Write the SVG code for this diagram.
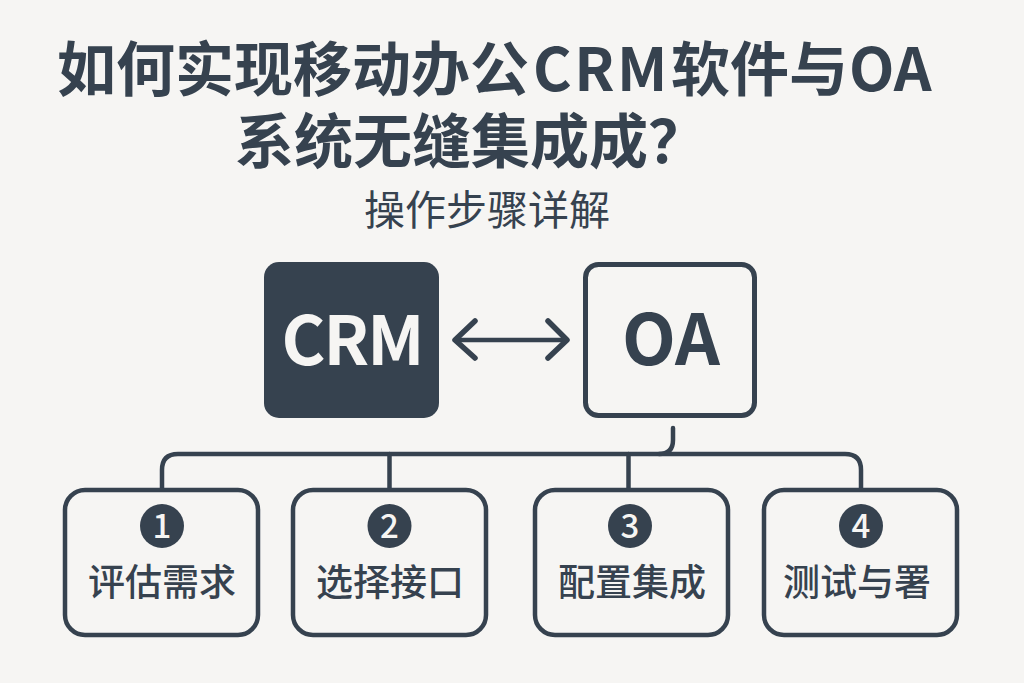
<svg xmlns="http://www.w3.org/2000/svg" width="1024" height="683" viewBox="0 0 1024 683">
<style>
text{font-family:"Noto Sans CJK SC","Noto Sans",sans-serif;fill:#36424f}
.title{font-size:59px;font-weight:700}
.sub{font-size:41px;font-weight:400}
.big{font-size:70px;font-weight:700;text-anchor:middle}
.label{font-size:37px;font-weight:500;text-anchor:middle}
.num{font-size:33px;font-weight:500;text-anchor:middle;fill:#f6f5f3}
.box{fill:none;stroke:#36424f;stroke-width:4.5}
.dot{fill:#36424f}
.line{fill:none;stroke:#36424f;stroke-width:4.5;stroke-linecap:round;stroke-linejoin:round}
</style>
<rect width="1024" height="683" fill="#f6f5f3"/>
<g id="title">
<text class="title" x="57" y="91">如何实现移动办公<tspan x="533" style="letter-spacing:2.500px">CRM</tspan><tspan x="671">软件与</tspan><tspan x="849">OA</tspan></text>
<text class="title" x="235" y="163">系统无缝集成成？</text>
<text class="sub" x="364" y="225">操作步骤详解</text>
</g>
<g id="connectors">
<path class="line" d="M456 340H566"/>
<path class="line" style="stroke-width:5.500" d="M475 321L455 340L475 358M548 321L567 340L548 358"/>
<path class="line" d="M673 428V440Q673 454 659 454H178Q162 454 162 470V489"/>
<path class="line" d="M659 454H845Q861 454 861 470V489"/>
<path class="line" d="M389.500 454V489M628.500 454V489"/>
</g>
<g id="crm"><rect x="264" y="262" width="175" height="156" rx="15" class="dot"/><text class="big" x="352" y="365" style="fill:#f6f5f3;font-size:67px;letter-spacing:-2px">CRM</text></g>
<g id="oa"><rect x="585.500" y="264.500" width="169" height="151" rx="13" class="box" style="stroke-width:5"/><text class="big" x="671" y="365">OA</text></g>
<g id="step1"><rect x="65" y="490" width="193" height="145" rx="20" class="box"/><circle class="dot" cx="162" cy="526" r="22"/><text class="num" x="162" y="538">1</text><text class="label" x="162" y="596">评估需求</text></g>
<g id="step2"><rect x="293" y="490" width="193" height="145" rx="20" class="box"/><circle class="dot" cx="389.500" cy="526" r="22"/><text class="num" x="389.500" y="538">2</text><text class="label" x="390" y="596">选择接口</text></g>
<g id="step3"><rect x="535" y="490" width="193" height="145" rx="20" class="box"/><circle class="dot" cx="630" cy="526" r="22"/><text class="num" x="630" y="538">3</text><text class="label" x="632" y="596">配置集成</text></g>
<g id="step4"><rect x="764" y="490" width="193" height="145" rx="20" class="box"/><circle class="dot" cx="861" cy="526" r="22"/><text class="num" x="861" y="538">4</text><text class="label" x="857" y="596">测试与署</text></g>
</svg>
